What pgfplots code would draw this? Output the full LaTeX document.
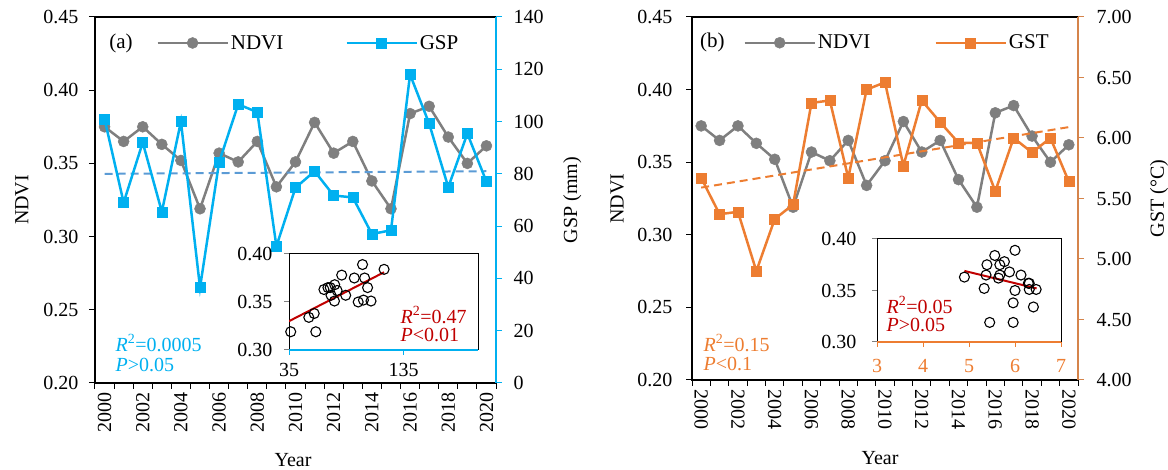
\documentclass[border=0pt]{standalone}
\usepackage{fontspec}
\setmainfont{Liberation Serif}
\usepackage{pgfplots}
\usepackage{pgfplotstable}
\pgfplotsset{compat=1.18}
\newcommand\fs{\fontsize{20}{24}\selectfont}
\newcommand\lfs{\fontsize{21}{25}\selectfont}
\definecolor{ndvi}{HTML}{7F7F7F}
\definecolor{gsp}{HTML}{00B0F0}
\definecolor{gst}{HTML}{ED7D31}
\definecolor{gstaxis}{HTML}{D5844B}
\definecolor{gsptrend}{HTML}{5B9BD5}
\definecolor{reg}{HTML}{C00000}

\pgfplotstableread{
x ndvi gsp gst
0 0.375 101 5.67
1 0.365 69 5.37
2 0.375 92 5.39
3 0.363 65.5 4.90
4 0.352 100 5.33
5 0.319 36.5 5.45
6 0.357 84.5 6.29
7 0.351 106.6 6.31
8 0.365 103.6 5.67
9 0.334 52.3 6.40
10 0.351 74.7 6.46
11 0.378 81 5.77
12 0.357 71.7 6.31
13 0.365 71 6.13
14 0.338 57 5.96
15 0.319 58.4 5.96
16 0.384 118 5.56
17 0.389 99.2 6.00
18 0.368 74.9 5.88
19 0.350 95.4 6.00
20 0.362 77 5.64
}\data

\pgfplotsset{
  /pgf/number format/assume math mode=true,
  every axis/.append style={font=\fs},
  twodec/.style={yticklabel style={/pgf/number format/fixed, /pgf/number format/fixed zerofill, /pgf/number format/precision=2}},
  mainaxis/.style={
    scale only axis, xmin=-0.5, xmax=20.5,
    tick align=outside, major tick length=6pt, minor tick length=6pt,
    every tick/.append style={black, line width=1pt},
    axis line style={line width=1.5pt},
    legend cell align=left,
  },
  ndvistyle/.style={ndvi, line width=2.5pt, mark=*, mark size=5.5pt, mark options={fill=ndvi, draw=ndvi, line width=0.5pt}},
  gspstyle/.style={gsp, line width=2.5pt, mark=square*, mark size=5pt, mark options={fill=gsp, draw=gsp, line width=0.5pt}},
  gststyle/.style={gst, line width=2.5pt, mark=square*, mark size=5pt, mark options={fill=gst, draw=gst, line width=0.5pt}},
  legimg/.style={legend image code/.code={\draw[##1, mark repeat=2, mark phase=2] plot coordinates {(0pt,0pt) (35pt,0pt) (70pt,0pt)};}},
  inset/.style={
    scale only axis, ymin=0.3, ymax=0.4, ytick={0.30,0.35,0.40}, twodec,
    tick align=outside, major tick length=5pt, xtick pos=bottom, ytick pos=left,
    axis background/.style={fill=white},
    axis line style={line width=1pt},
    every tick/.append style={line width=1pt},
  },
}

\begin{document}
\begin{tikzpicture}
\path[use as bounding box] (0pt,0pt) rectangle (1168pt,470pt);

% ===== Panel (a) =====
\begin{axis}[mainaxis, legimg, twodec,
  at={(95pt,87pt)}, anchor=south west, width=401pt, height=366pt,
  ymin=0.2, ymax=0.45, ytick={0.20,0.25,0.30,0.35,0.40,0.45},
  yticklabel style={xshift=-7pt},
  xtick={0,2,...,20}, xticklabels={2000,2002,2004,2006,2008,2010,2012,2014,2016,2018,2020},
  minor xtick={-0.5,0.5,...,20.5},
  every major x tick/.append style={draw=none},
  xtick pos=bottom, ytick pos=left,
  xticklabel style={rotate=90, anchor=east},
  every axis y label/.style={at={(axis description cs:-0.182,0.5)}, rotate=90, anchor=center},
  every axis x label/.style={at={(axis description cs:0.494,-0.21)}, anchor=center},
  ylabel={NDVI}, xlabel={Year},
  legend columns=2,
  legend style={draw=none, fill=none, at={(axis description cs:0.145,0.929)}, anchor=west, font=\lfs,
    /tikz/every even column/.append style={column sep=60pt}},
]
\addplot[ndvistyle] table[x=x,y=ndvi]{\data};
\addlegendentry{NDVI}
\addlegendimage{gspstyle}
\addlegendentry{GSP}
\node[anchor=west, font=\lfs] at (axis description cs:0.027,0.929) {(a)};
\end{axis}

\begin{axis}[mainaxis,
  at={(95pt,87pt)}, anchor=south west, width=401pt, height=366pt,
  ymin=0, ymax=140, ytick={0,20,...,140},
  yticklabel style={xshift=8pt},
  axis x line=none, axis y line*=right,
  y axis line style={gsp, line width=1.8pt},
  every tick/.append style={gsp},
  every axis y label/.style={at={(axis description cs:1.19,0.5)}, rotate=90, anchor=center},
  ylabel={GSP (mm)},
]
\addplot[gsptrend, line width=2pt, dash pattern=on 8pt off 5pt] coordinates {(0,80.0) (20,81.0)};
\addplot[gspstyle] table[x=x,y=gsp]{\data};
\end{axis}

\begin{axis}[inset,
  at={(289pt,120pt)}, anchor=south west, width=189pt, height=96pt,
  xmin=35, xmax=200, xtick={35,135},
  yticklabel style={xshift=-8pt},
  xticklabel style={yshift=-5pt},
  every x tick/.append style={gsp},
  extra description/.code={\draw[gsp, line width=1.8pt] (axis description cs:0,0) -- (axis description cs:1,0);},
]
\addplot[only marks, mark=o, mark size=5pt, mark options={black, line width=1.1pt}] table[x=gsp,y=ndvi]{\data};
\addplot[reg, line width=2pt] coordinates {(35,0.330) (118,0.381)};
\end{axis}

\node[anchor=west, text=gsp, font=\fs] at (112pt,127pt) {\textit{R}\textsuperscript{2}=0.0005};
\node[anchor=west, text=gsp, font=\fs] at (112pt,105pt) {\textit{P}>0.05};
\node[anchor=west, text=reg, font=\fs] at (397pt,155pt) {\textit{R}\textsuperscript{2}=0.47};
\node[anchor=west, text=reg, font=\fs] at (397pt,135pt) {\textit{P}<0.01};

% ===== Panel (b) =====
\begin{axis}[mainaxis, legimg, twodec,
  at={(692pt,90pt)}, anchor=south west, width=386pt, height=363pt,
  ymin=0.2, ymax=0.45, ytick={0.20,0.25,0.30,0.35,0.40,0.45},
  yticklabel style={xshift=-10pt},
  xtick={0,2,...,20}, xticklabels={2000,2002,2004,2006,2008,2010,2012,2014,2016,2018,2020},
  minor xtick={-0.5,0.5,...,20.5},
  every major x tick/.append style={draw=none},
  xtick pos=bottom, ytick pos=left,
  xticklabel style={rotate=-90, anchor=west},
  every axis y label/.style={at={(axis description cs:-0.194,0.5)}, rotate=90, anchor=center},
  every axis x label/.style={at={(axis description cs:0.487,-0.215)}, anchor=center},
  ylabel={NDVI}, xlabel={Year},
  legend columns=2,
  legend style={draw=none, fill=none, at={(axis description cs:0.125,0.929)}, anchor=west, font=\lfs,
    /tikz/every even column/.append style={column sep=62pt}},
]
\addplot[ndvistyle] table[x=x,y=ndvi]{\data};
\addlegendentry{NDVI}
\addlegendimage{gststyle}
\addlegendentry{GST}
\node[anchor=west, font=\lfs] at (axis description cs:0.012,0.929) {(b)};
\end{axis}

\begin{axis}[mainaxis, twodec,
  at={(692pt,90pt)}, anchor=south west, width=386pt, height=363pt,
  ymin=4, ymax=7, ytick={4,4.5,...,7},
  yticklabel style={xshift=9pt},
  axis x line=none, axis y line*=right,
  y axis line style={gstaxis, line width=1.8pt},
  every tick/.append style={gstaxis},
  every axis y label/.style={at={(axis description cs:1.21,0.5)}, rotate=90, anchor=center},
  ylabel={GST (°C)},
]
\addplot[gst, line width=2pt, dash pattern=on 8pt off 5pt] coordinates {(0,5.59) (20,6.09)};
\addplot[gststyle] table[x=x,y=gst]{\data};
\end{axis}

\begin{axis}[inset,
  at={(877pt,128pt)}, anchor=south west, width=184pt, height=103pt,
  xmin=3, xmax=7, xtick={3,4,5,6,7},
  yticklabel style={xshift=-12pt},
  xticklabel style={yshift=-9pt, text=gst},
  every x tick/.append style={gst},
  extra description/.code={\draw[gst, line width=1.8pt] (axis description cs:0,0) -- (axis description cs:1,0);},
]
\addplot[only marks, mark=o, mark size=5pt, mark options={black, line width=1.1pt}] table[x=gst,y=ndvi]{\data};
\addplot[reg, line width=2pt] coordinates {(4.9,0.369) (6.47,0.352)};
\end{axis}

\node[anchor=west, text=gst, font=\fs] at (700pt,127pt) {\textit{R}\textsuperscript{2}=0.15};
\node[anchor=west, text=gst, font=\fs] at (700pt,106pt) {\textit{P}<0.1};
\node[anchor=west, text=reg, font=\fs] at (883pt,165pt) {\textit{R}\textsuperscript{2}=0.05};
\node[anchor=west, text=reg, font=\fs] at (883pt,145pt) {\textit{P}>0.05};

\end{tikzpicture}
\end{document}
